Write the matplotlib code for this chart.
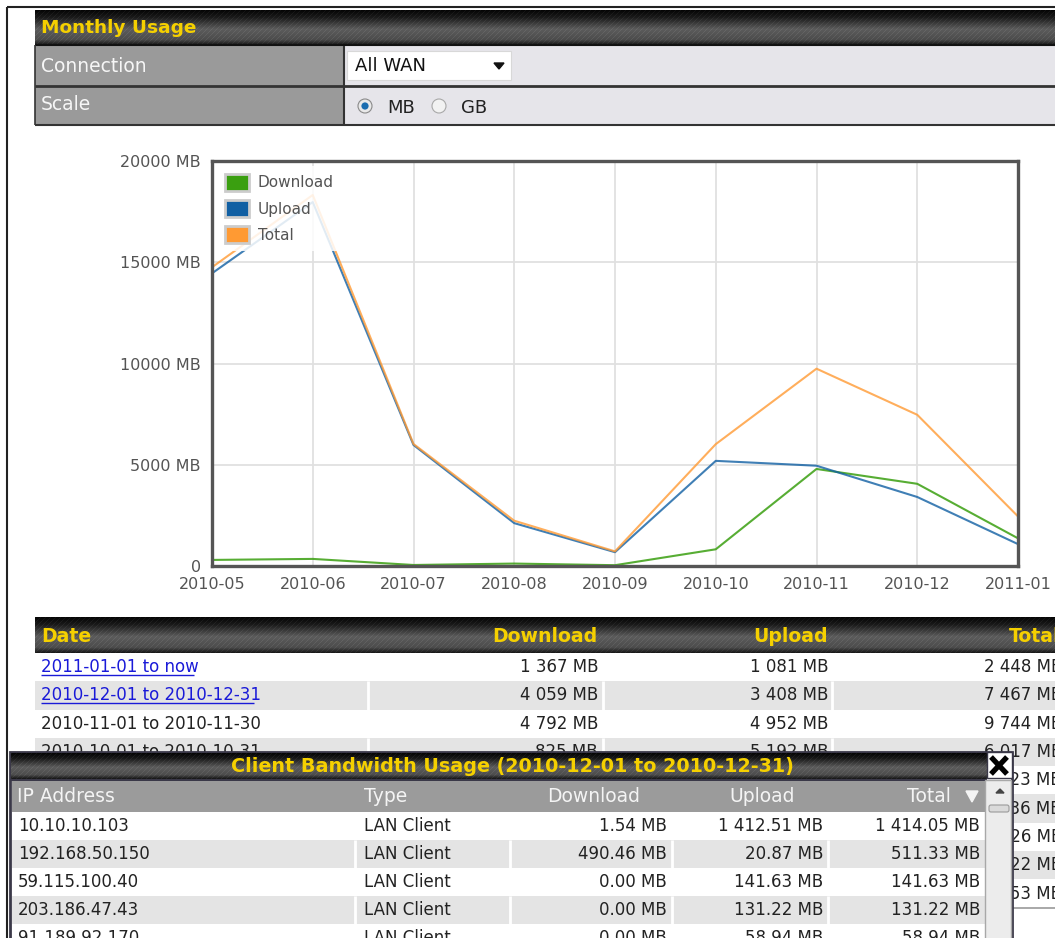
import calendar
import numpy as np
import matplotlib
matplotlib.use('Agg')
import matplotlib.pyplot as plt
from matplotlib.patches import Rectangle, Circle, Polygon, Patch, FancyBboxPatch
from matplotlib.ticker import FuncFormatter

W, H = 1055, 938

# monthly usage (MB)
months = ['2010-05', '2010-06', '2010-07', '2010-08', '2010-09',
          '2010-10', '2010-11', '2010-12', '2011-01']
download = [300, 350, 50, 120, 40, 825, 4792, 4059, 1367]
upload = [14453, 17972, 5976, 2116, 683, 5192, 4952, 3408, 1081]
total = [d + u for d, u in zip(download, upload)]
y_ticks = [0, 5000, 10000, 15000, 20000]

# client bandwidth usage 2010-12 (MB)
client_ip = ['10.10.10.103', '192.168.50.150', '59.115.100.40', '203.186.47.43', '91.189.92.170']
client_type = ['LAN Client'] * 5
client_down = [1.54, 490.46, 0.00, 0.00, 0.00]
client_up = [1412.51, 20.87, 141.63, 131.22, 58.94]
client_total = [round(d + u, 2) for d, u in zip(client_down, client_up)]

c_down, c_up, c_total = '#3a9f10', '#105fa3', '#ff9a33'
yellow = '#f5d000'

plt.rcParams['font.family'] = ['DejaVu Sans']

fig = plt.figure(figsize=(W / 100, H / 100), dpi=100, facecolor='white')
page = fig.add_axes([0, 0, 1, 1])
page.axis('off')


def rect(x0, y0, x1, y1, fc, ec='none', lw=0, z=1):
    page.add_patch(Rectangle((x0, y0), x1 - x0, y1 - y0, facecolor=fc,
                             edgecolor=ec, linewidth=lw, zorder=z))


def line(xs, ys, c, lw, z=2):
    page.plot(xs, ys, color=c, lw=lw, zorder=z, solid_capstyle='butt')


def txt(x, y, s, size=12, c='#222222', ha='left', bold=False, z=3):
    return page.text(x, y, s, fontsize=size, color=c, ha=ha, va='center',
                     fontweight='bold' if bold else 'normal', zorder=z)


def dark_bar(x0, y0, x1, y1, z=1):
    w, h = int(x1 - x0), int(y1 - y0)
    t = np.linspace(0, 1, h)[:, None]
    base = np.interp(t, [0, 0.2, 0.55, 0.85, 1], [0.02, 0.10, 0.36, 0.30, 0.10])
    rows = np.arange(h)[:, None]
    cols = np.arange(w)[None, :]
    g = np.clip(base + ((cols + rows) % 5 == 0) * 0.05, 0, 1)
    page.imshow(np.dstack([g, g, g]), extent=(x0, x1, y1, y0), aspect='auto',
                interpolation='nearest', zorder=z)


def fmt_mb(v):
    return f'{v:,}'.replace(',', ' ') + ' MB'


def fmt_mb2(v):
    return f'{v:,.2f}'.replace(',', ' ') + ' MB'


# outer frame
line([7, W], [7, 7], '#222222', 1.5)
line([7, 7], [7, H], '#222222', 1.5)

# Monthly Usage header + options
dark_bar(35, 10, W, 45)
txt(41, 28, 'Monthly Usage', 13.3, yellow, bold=True)
rect(35, 46, 344, 125, '#9a9a9a')
rect(344, 46, W, 125, '#e6e5ea')
line([35, W], [45.5, 45.5], '#111111', 1.5)
line([35, W], [86, 86], '#333333', 2)
line([35, W], [125.5, 125.5], '#333333', 1.5)
line([344, 344], [46, 125], '#333333', 1.5)
line([35, 35], [45, 125], '#333333', 1.2)
txt(41, 66, 'Connection', 13.5, '#f6f6f6')
txt(41, 105, 'Scale', 13.5, '#f6f6f6')
rect(347, 51, 511, 80, 'white', '#d8d8d8', 0.8)
txt(355, 66, 'All WAN', 13, '#111111')
page.add_patch(Polygon([(494, 63), (504, 63), (499, 69)], color='#111111', zorder=3))
page.add_patch(Circle((365, 106), 7, facecolor='#e9e9e9', edgecolor='#8a8a8a', lw=0.8, zorder=3))
page.add_patch(Circle((365, 106), 3.6, facecolor='#1a6db0', zorder=4))
page.add_patch(Circle((439, 106), 7, facecolor='#f2f2f2', edgecolor='#a8a8a8', lw=0.8, zorder=3))
txt(387, 108, 'MB', 13)
txt(461, 108, 'GB', 13)

# chart
ax = fig.add_axes([212 / W, 1 - 566 / H, (1018 - 212) / W, (566 - 161) / H], zorder=2)
x = np.arange(len(months))
ax.plot(x, download, color=c_down, lw=1.5, alpha=0.85)
ax.plot(x, upload, color=c_up, lw=1.5, alpha=0.8)
ax.plot(x, total, color=c_total, lw=1.5, alpha=0.8)
ax.set_xlim(0, len(months) - 1)
ax.set_ylim(y_ticks[0], y_ticks[-1])
ax.set_xticks(x)
ax.set_xticklabels(months)
ax.set_yticks(y_ticks)
ax.yaxis.set_major_formatter(FuncFormatter(lambda v, p: '0' if v == 0 else f'{int(v)} MB'))
ax.tick_params(length=0, labelsize=11.5, colors='#545454', pad=8)
ax.grid(True, color='#e0e0e0', lw=1.3)
ax.set_axisbelow(True)
for s in ax.spines.values():
    s.set_color('#555555')
    s.set_linewidth(2.4)
handles = [Patch(facecolor=c, edgecolor='#cccccc', linewidth=2) for c in (c_down, c_up, c_total)]
ax.legend(handles, ['Download', 'Upload', 'Total'], loc='upper left', fontsize=11,
          labelcolor='#545454', frameon=True, facecolor='white', edgecolor='none',
          framealpha=0.85, fancybox=False, handlelength=1.6, handleheight=1.3,
          handletextpad=0.55, labelspacing=0.62, borderpad=0.55, borderaxespad=0.3)

# monthly table
dark_bar(35, 617, W, 653)
txt(41, 636, 'Date', 13.6, yellow, bold=True)
txt(598, 636, 'Download', 13.6, yellow, ha='right', bold=True)
txt(828, 636, 'Upload', 13.6, yellow, ha='right', bold=True)
txt(1060, 636, 'Total', 13.6, yellow, ha='right', bold=True)
renderer = fig.canvas.get_renderer()
row_h = 28.3
popup_top = 752
order = list(reversed(range(len(months))))
for i, idx in enumerate(order):
    y0 = 653 + row_h * i
    yc = y0 + row_h / 2
    if i % 2 == 1:
        rect(35, y0, W, y0 + row_h, '#e4e4e4')
        for sx in (368, 603, 832):
            line([sx, sx], [y0, y0 + row_h], 'white', 2)
    txt(1062, yc, fmt_mb(total[idx]), 12, ha='right')
    if y0 > popup_top:
        continue  # row hidden behind the popup except its right edge
    yr, mo = months[idx].split('-')
    if idx == len(months) - 1:
        label = f'{yr}-{mo}-01 to now'
    else:
        last = calendar.monthrange(int(yr), int(mo))[1]
        label = f'{yr}-{mo}-01 to {yr}-{mo}-{last:02d}'
    link = i < 2
    t = txt(41, yc, label, 12, '#1a1ad8' if link else '#222222')
    if link:
        bb = t.get_window_extent(renderer).transformed(page.transData.inverted())
        line([bb.x0, bb.x1], [yc + 8, yc + 8], '#1a1ad8', 1)
    txt(598, yc, fmt_mb(download[idx]), 12, ha='right')
    txt(828, yc, fmt_mb(upload[idx]), 12, ha='right')
line([35, W], [653 + row_h * len(months) + 0.5] * 2, '#9a9a9a', 1.2)

# client bandwidth popup
Z = 10
rect(10, popup_top, 1012, H + 5, 'white', '#3a3848', 2, z=Z)
dark_bar(11, 753, 987, 779, z=Z + 1)
txt(512, 766, 'Client Bandwidth Usage (2010-12-01 to 2010-12-31)', 13.8, yellow,
    ha='center', bold=True, z=Z + 2)
rect(987, 752, 1012, 778, 'white', '#3a3848', 1, z=Z + 1)
line([991, 1007], [757, 774], 'black', 3.8, z=Z + 2)
line([991, 1007], [774, 757], 'black', 3.8, z=Z + 2)
line([11, 987], [780, 780], '#3a3848', 1.5, z=Z + 1)
rect(12, 781, 985, 812, '#9b9b9b', z=Z + 1)
txt(17, 797, 'IP Address', 13.5, '#f4f4f4', z=Z + 2)
txt(364, 797, 'Type', 13.5, '#f4f4f4', z=Z + 2)
txt(640, 797, 'Download', 13.5, '#f4f4f4', ha='right', z=Z + 2)
txt(795, 797, 'Upload', 13.5, '#f4f4f4', ha='right', z=Z + 2)
txt(951, 797, 'Total', 13.5, '#f4f4f4', ha='right', z=Z + 2)
page.add_patch(Polygon([(966, 791), (978, 791), (972, 802)], color='#f4f4f4', zorder=Z + 2))
for i in range(len(client_ip)):
    y0 = 812 + 28 * i
    yc = y0 + 14
    if i % 2 == 1:
        rect(12, y0, 985, y0 + 28, '#e4e4e4', z=Z + 1)
        for sx in (355, 510, 672, 828):
            line([sx, sx], [y0, y0 + 28], 'white', 2, z=Z + 1)
    txt(18, yc, client_ip[i], 12, z=Z + 2)
    txt(364, yc, client_type[i], 12, z=Z + 2)
    txt(667, yc, fmt_mb2(client_down[i]), 12, ha='right', z=Z + 2)
    txt(823, yc, fmt_mb2(client_up[i]), 12, ha='right', z=Z + 2)
    txt(980, yc, fmt_mb2(client_total[i]), 12, ha='right', z=Z + 2)
# scrollbar
rect(985, 780, 1011, H + 5, '#ececec', '#a8a8a8', 1, z=Z + 3)
page.add_patch(Polygon([(996, 793), (1004, 793), (1000, 789)], color='#444444', zorder=Z + 4))
page.add_patch(FancyBboxPatch((989, 805), 20, 7, boxstyle='round,pad=0,rounding_size=2',
                              facecolor='#dadada', edgecolor='#9a9a9a', lw=0.8, zorder=Z + 4))

page.set_xlim(0, W)
page.set_ylim(H, 0)

fig.savefig('out.png', dpi=100, facecolor='white')
